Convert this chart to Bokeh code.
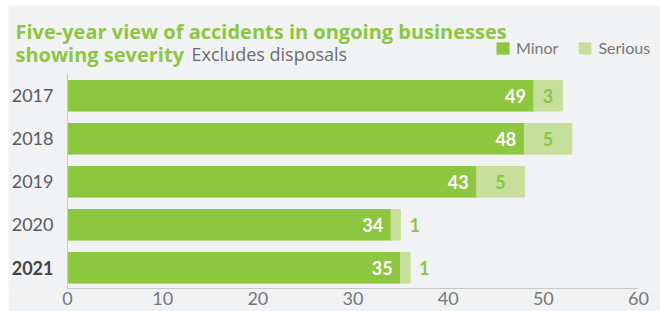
from bokeh.plotting import figure
from bokeh.models import ColumnDataSource, Range1d, FixedTicker, Label, Legend, LegendItem
from bokeh.core.properties import value
from bokeh.embed import file_html
from bokeh.resources import INLINE

years = ["2017", "2018", "2019", "2020", "2021"]
minor = [49, 48, 43, 34, 35]
serious = [3, 5, 5, 1, 1]
x_ticks = [0, 10, 20, 30, 40, 50, 60]

GREEN = "#8dc63f"
LIGHT = "#c6e09c"
BG = "#f1f2f4"
NUMFONT = "Lato"
TFONT = "Open Sans"

n = len(years)
ypos = [n - 1 - i for i in range(n)]
total = [m + s for m, s in zip(minor, serious)]
ser_x, ser_align, ser_off = [], [], []
for m, s in zip(minor, serious):
    if s >= 2:
        ser_x.append(m + s / 2); ser_align.append("center"); ser_off.append(0)
    else:
        ser_x.append(m + s); ser_align.append("left"); ser_off.append(9)
year_style = ["normal"] * (n - 1) + ["bold"]
year_color = ["#5a5a5a"] * (n - 1) + ["#444444"]

src = ColumnDataSource(dict(y=ypos, minor=minor, serious=serious, total=total,
                            minor_lbl=[str(v) for v in minor],
                            ser_lbl=[str(v) for v in serious],
                            ser_x=ser_x, ser_align=ser_align, ser_off=ser_off,
                            zero=[0] * n, year=years, ystyle=year_style, ycolor=year_color))

PX = 571 / 60.0   # pixels per x unit
p = figure(width=652, height=306, output_backend="svg", toolbar_location=None,
           margin=(5, 0, 0, 8),
           x_range=Range1d(-59 / PX, 593 / PX), y_range=Range1d(-0.481, 6.10),
           min_border_left=0, min_border_right=0, min_border_top=0, min_border_bottom=23)
p.background_fill_color = BG
p.border_fill_color = BG
p.outline_line_color = None
p.grid.visible = False

r1 = p.hbar(y="y", left=0, right="minor", height=0.71, color=GREEN, source=src)
r2 = p.hbar(y="y", left="minor", right="total", height=0.71, color=LIGHT, source=src)

p.text(x="minor", y="y", text="minor_lbl", source=src, text_align="right", x_offset=-8,
       text_baseline="middle", text_color="white", text_font=value(NUMFONT),
       text_font_size="18px", text_font_style="bold")
p.text(x="ser_x", y="y", text="ser_lbl", source=src, text_align="ser_align", x_offset="ser_off",
       text_baseline="middle", text_color=GREEN, text_font=value(NUMFONT),
       text_font_size="18px", text_font_style="bold")
# category labels
p.text(x="zero", y="y", text="year", source=src, text_align="right", x_offset=-14,
       text_baseline="middle", text_color="ycolor", text_font=value(NUMFONT),
       text_font_size="18px", text_font_style="ystyle")

# axes
xa = p.xaxis[0]
xa.ticker = FixedTicker(ticks=x_ticks)
xa.bounds = (0, 60)
xa.major_tick_out = 0
xa.major_tick_in = 0
xa.minor_tick_out = 0
xa.minor_tick_in = 0
xa.axis_line_color = "#c8c8c8"
xa.major_label_standoff = 3
xa.major_label_text_font = NUMFONT
xa.major_label_text_font_size = "18px"
xa.major_label_text_color = "#777777"

ya = p.yaxis[0]
ya.fixed_location = 0
ya.ticker = FixedTicker(ticks=[])
ya.bounds = (-0.49, n - 1 + 0.49)
ya.major_tick_out = 0
ya.major_tick_in = 0
ya.minor_tick_out = 0
ya.minor_tick_in = 0
ya.major_label_standoff = 0
ya.axis_line_color = "#c8c8c8"

# title
p.add_layout(Label(x=0, y=5.495, x_offset=-52, text="Five-year view of accidents in ongoing businesses",
                   text_align="left", text_baseline="alphabetic", text_font=TFONT,
                   text_font_size="20px", text_font_style="bold", text_color=GREEN))
p.add_layout(Label(x=0, y=4.972, x_offset=-52, text="showing severity",
                   text_align="left", text_baseline="alphabetic", text_font=TFONT,
                   text_font_size="20px", text_font_style="bold", text_color=GREEN))
p.add_layout(Label(x=0, y=4.972, x_offset=124, text="Excludes disposals",
                   text_align="left", text_baseline="alphabetic", text_font=TFONT,
                   text_font_size="18px", text_color="#6d6d6d"))

legend = Legend(items=[LegendItem(label="Minor", renderers=[r1]),
                       LegendItem(label="Serious", renderers=[r2])],
                orientation="horizontal", location=(487, 231),
                glyph_width=15, glyph_height=14, label_standoff=6, spacing=19,
                padding=0, margin=0, border_line_color=None, background_fill_alpha=0,
                label_text_font=NUMFONT, label_text_font_size="16px", label_text_color="#777777",
                label_height=14)
p.add_layout(legend, "center")

open("out.html", "w").write(file_html(p, INLINE))
